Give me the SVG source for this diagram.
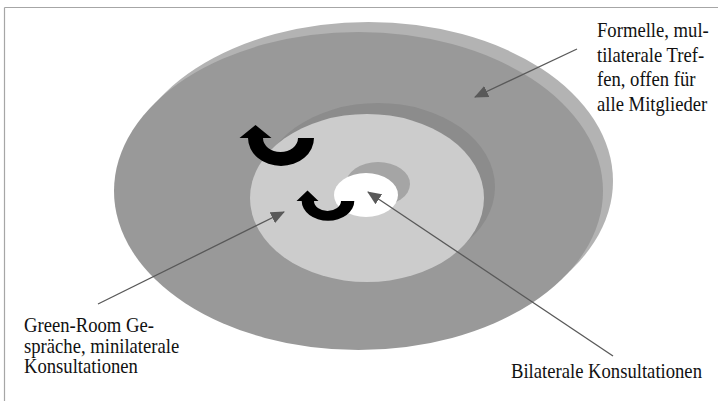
<svg xmlns="http://www.w3.org/2000/svg" width="718" height="401" viewBox="0 0 718 401">
<defs>
<style>
.lbl{font-family:"Liberation Serif","Times New Roman",serif;font-size:20.5px;fill:#111}
.conn{stroke:#595959;stroke-width:1.3;fill:none}
.turn{fill:#000}
</style>
<marker id="ah" markerUnits="userSpaceOnUse" markerWidth="14" markerHeight="12" viewBox="0 0 14 12" refX="13" refY="6" orient="auto">
<path d="M0,0 L14,6 L0,12 Z" fill="#595959"/>
</marker>
</defs>
<rect width="718" height="401" fill="#fff"/>
<g id="frame" stroke="#a6a6a6" stroke-width="1.2" fill="none">
<line x1="4.5" y1="7.5" x2="718" y2="7.5"/>
<line x1="4.5" y1="7.5" x2="4.5" y2="401"/>
</g>
<g id="outer-ring">
<ellipse cx="368.5" cy="181" rx="244.5" ry="159" fill="#b3b3b3"/>
<ellipse cx="358.5" cy="191" rx="244.5" ry="159" fill="#999999"/>
</g>
<g id="middle-ring">
<ellipse cx="378" cy="187" rx="117" ry="84" fill="#8c8c8c"/>
<ellipse cx="367" cy="198" rx="117" ry="84" fill="#cccccc"/>
</g>
<g id="center">
<ellipse cx="378" cy="184" rx="32" ry="22" fill="#a5a5a5"/>
<ellipse cx="366" cy="195" rx="32" ry="22" fill="#ffffff"/>
</g>
<g id="turn-arrow-large">
<path class="turn" d="M248,138 A33,28 0 0 0 314,138 L298,138 A17.5,14 0 0 1 263,138 L271.5,138 L255.5,125 L239.5,138 Z"/>
</g>
<g id="turn-arrow-small">
<path class="turn" d="M301.7,201 A26.3,19.7 0 0 0 354.3,201 L341,201 A13.5,10 0 0 1 314,201 L318.5,201 L307.5,190.5 L296.5,201 Z"/>
</g>
<g id="connectors">
<line class="conn" x1="577" y1="49" x2="475" y2="97" marker-end="url(#ah)"/>
<line class="conn" x1="98" y1="304" x2="284" y2="212" marker-end="url(#ah)"/>
<line class="conn" x1="613" y1="356" x2="368" y2="192" marker-end="url(#ah)"/>
</g>
<g id="label-formelle" transform="translate(597,0) scale(0.91,1)">
<text class="lbl" x="0" y="37">Formelle, mul-</text>
<text class="lbl" x="0" y="61.7">tilaterale Tref-</text>
<text class="lbl" x="0" y="86.3">fen, offen für</text>
<text class="lbl" x="0" y="111">alle Mitglieder</text>
</g>
<g id="label-greenroom" transform="translate(24,0) scale(0.91,1)">
<text class="lbl" x="0" y="332.5">Green-Room Ge-</text>
<text class="lbl" x="0" y="353">spräche, minilaterale</text>
<text class="lbl" x="0" y="373.5">Konsultationen</text>
</g>
<g id="label-bilateral" transform="translate(511,0) scale(0.91,1)">
<text class="lbl" x="0" y="378">Bilaterale Konsultationen</text>
</g>
</svg>
